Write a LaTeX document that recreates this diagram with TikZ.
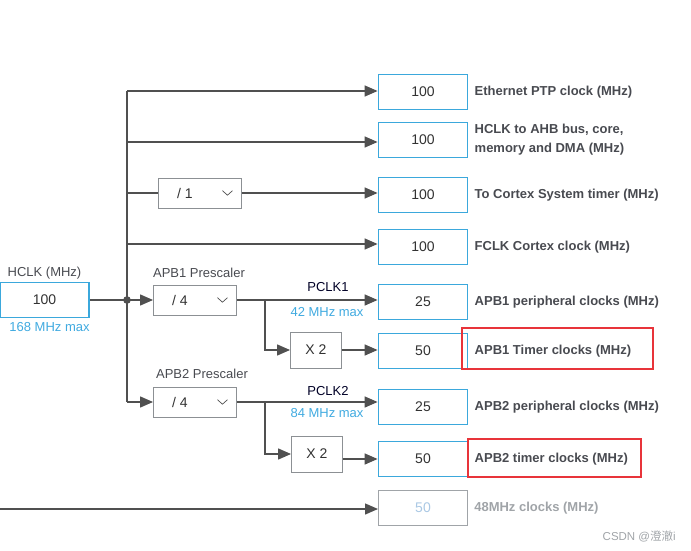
\documentclass[tikz,border=0pt]{standalone}
\usepackage{fontspec}
\setmainfont{Liberation Sans}
\newfontfamily\cjk{Noto Sans CJK SC}
\usetikzlibrary{arrows.meta,positioning}

\definecolor{cubeblue}{RGB}{59,168,220}
\definecolor{wiregray}{RGB}{80,80,80}
\definecolor{numtxt}{RGB}{50,50,50}
\definecolor{lbltxt}{RGB}{72,74,80}
\definecolor{boxline}{RGB}{140,144,148}
\definecolor{maxblue}{RGB}{64,170,224}
\definecolor{hlred}{RGB}{232,52,58}
\definecolor{faded}{RGB}{160,164,168}
\definecolor{fadedblue}{RGB}{170,200,228}

\begin{document}
\begin{tikzpicture}[x=1pt,y=-1pt,>={Triangle[length=13pt,width=11pt]},semithick]
  \tikzstyle{outbox}=[draw=cubeblue,line width=1.8pt,minimum width=89pt,minimum height=35pt,inner sep=0pt,text=numtxt,font=\fontsize{14}{16}\selectfont]
  \tikzstyle{divbox}=[draw=boxline,line width=0.9pt,minimum width=83pt,minimum height=30pt,inner sep=0pt,text=numtxt,font=\fontsize{14}{16}\selectfont]
  \tikzstyle{mulbox}=[divbox,minimum width=51pt,minimum height=36pt]
  \tikzstyle{clklbl}=[inner sep=0pt,anchor=west,text=lbltxt,font=\bfseries\fontsize{13}{19}\selectfont]
  \tikzstyle{caption}=[inner sep=0pt,text=lbltxt,font=\fontsize{13}{15}\selectfont]
  \tikzstyle{maxlbl}=[inner sep=0pt,text=maxblue,font=\fontsize{13}{15}\selectfont]
  \tikzstyle{conn}=[draw=wiregray,line width=1.4pt]
  \tikzstyle{arr}=[conn,->]
  \tikzstyle{chev}=[draw=wiregray,line width=0.7pt]
  \tikzstyle{hl}=[draw=hlred,line width=2.4pt]

  \useasboundingbox (0,0) rectangle (691,551);

  %--- Source and prescalers ---
  \node[outbox] (hclk) at (44.5,300) {100};
  \node[caption, above=2pt of hclk] {HCLK (MHz)};
  \node[maxlbl, below=4pt of hclk, xshift=5pt] {168 MHz max};

  \node[divbox] (div1)    at (200,193) {/ 1\hbox to 30pt{}};
  \node[divbox] (apb1div) at (195,300) {/ 4\hbox to 30pt{}};
  \node[divbox] (apb2div) at (195,402) {/ 4\hbox to 30pt{}};
  \node[caption, above=7pt of apb1div, xshift=4pt] {APB1 Prescaler};
  \node[caption, above=8pt of apb2div, xshift=7pt] {APB2 Prescaler};
  \foreach \n in {div1,apb1div,apb2div}
    \draw[chev] ([xshift=-19.5pt,yshift=2.3pt]\n.east) -- ++(5,4.5) -- ++(5,-4.5);

  \node[mulbox] (x2a) at (316,350) {X 2};
  \node[mulbox] (x2b) at (317,454) {X 2};

  %--- Outputs ---
  \node[outbox] (eth)     at (423,92)  {100};
  \node[outbox] (ahb)     at (423,140) {100};
  \node[outbox] (systick) at (423,195) {100};
  \node[outbox] (fclk)    at (423,247) {100};
  \node[outbox] (apb1p)   at (423,302) {25};
  \node[outbox] (apb1t)   at (423,351) {50};
  \node[outbox] (apb2p)   at (423,407) {25};
  \node[outbox] (apb2t)   at (423,459) {50};
  \node[outbox, draw=faded, line width=1pt, text=fadedblue] (usb) at (423,508) {50};

  \node[clklbl, right=6pt of eth]     {Ethernet PTP clock (MHz)};
  \begin{scope}
    \clip (470,115) rectangle (691,154.5); % second line is cut off
    \node[clklbl, right=6pt of ahb, align=left] {HCLK to AHB bus, core,\\memory and DMA (MHz)};
  \end{scope}
  \node[clklbl, right=6pt of systick] {To Cortex System timer (MHz)};
  \node[clklbl, right=6pt of fclk]    {FCLK Cortex clock (MHz)};
  \node[clklbl, right=6pt of apb1p]   {APB1 peripheral clocks (MHz)};
  \node[clklbl, right=6pt of apb1t]   {APB1 Timer clocks (MHz)};
  \node[clklbl, right=6pt of apb2p]   {APB2 peripheral clocks (MHz)};
  \node[clklbl, right=6pt of apb2t]   {APB2 timer clocks (MHz)};
  \node[clklbl, right=6pt of usb, text=faded] {48MHz clocks (MHz)};

  \node[caption, text=black!85!blue] at (328,287) {PCLK1};
  \node[maxlbl] at (327,312) {42 MHz max};
  \node[caption, text=black!85!blue] at (328,391) {PCLK2};
  \node[maxlbl] at (327,413) {84 MHz max};

  %--- Bus ---
  \coordinate (b1)  at (127,91);
  \coordinate (b2)  at (127,142);
  \coordinate (b3)  at (127,193);
  \coordinate (b4)  at (127,244);
  \coordinate (hub) at (127,300);
  \coordinate (b6)  at (127,402);
  \coordinate (s1)  at (265,300);
  \coordinate (s2)  at (265,402);
  \coordinate (usbin) at (0,509);

  \draw[conn] (b1) -- (b6);
  \draw[arr] (b1) -- (b1 -| eth.west);
  \draw[arr] (b2) -- (b2 -| ahb.west);
  \draw[conn] (b3) -- (div1.west);
  \draw[arr] (div1.east) -- (div1.east -| systick.west);
  \draw[arr] (b4) -- (b4 -| fclk.west);

  % HCLK into the junction
  \draw[conn] (hclk.east) -- (hub);
  \fill[wiregray] (hub) circle (3.8pt);
  \draw[arr] (hub) -- (apb1div.west);
  \draw[arr] (b6) -- (apb2div.west);

  % APB1 branch
  \draw[arr] (apb1div.east) -- (apb1div.east -| apb1p.west);
  \draw[arr] (s1) |- (x2a.west);
  \draw[arr] (x2a.east) -- (x2a.east -| apb1t.west);

  % APB2 branch
  \draw[arr] (apb2div.east) -- (apb2div.east -| apb2p.west);
  \draw[arr] (s2) |- (x2b.west);
  \draw[arr] (x2b.east |- apb2t.west) -- (apb2t.west);

  \draw[arr] (usbin) -- (usbin -| usb.west);

  %--- Highlights ---
  \draw[hl] (462,328) rectangle (653,369);
  \draw[hl] (468,439) rectangle (641,477);

  \node[text=faded, anchor=east, inner sep=0pt, font=\fontsize{11.5}{13}\selectfont] (mark) at (676,536) {CSDN @{\cjk 澄澈}i};
\end{tikzpicture}
\end{document}
